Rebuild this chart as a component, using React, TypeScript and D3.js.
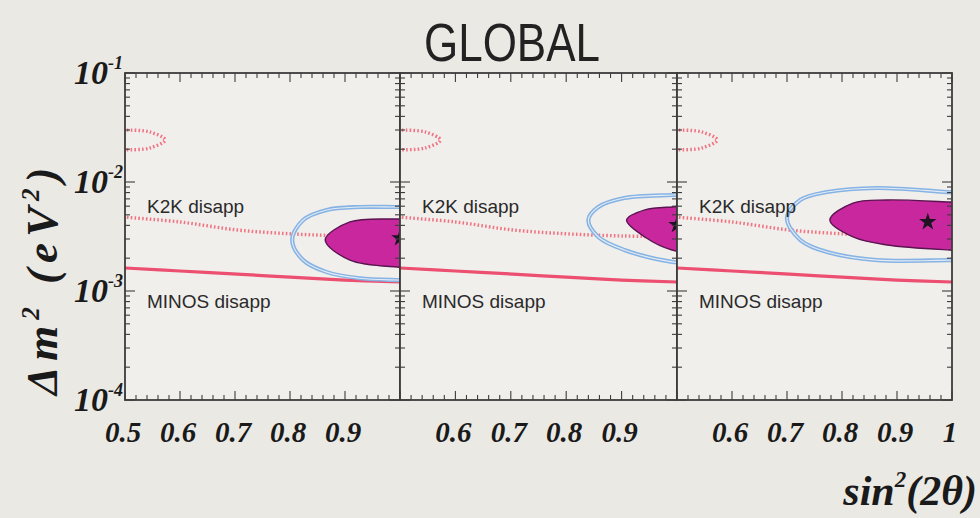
import React from "react";
import * as d3 from "d3";

// ---- chart data -------------------------------------------------------
const panelTitle = "GLOBAL";
const xDomain: [number, number] = [0.5, 1.0];
const yDomain: [number, number] = [1e-4, 1e-1];

const xTickValues = [
  [0.5, 0.6, 0.7, 0.8, 0.9],
  [0.6, 0.7, 0.8, 0.9],
  [0.6, 0.7, 0.8, 0.9, 1.0],
];
const xTickLabels = [
  ["0.5", "0.6", "0.7", "0.8", "0.9"],
  ["0.6", "0.7", "0.8", "0.9"],
  ["0.6", "0.7", "0.8", "0.9", "1"],
];
const yTickValues = [1e-1, 1e-2, 1e-3, 1e-4];
const yTickExponents = ["-1", "-2", "-3", "-4"];

// K2K disappearance 90% CL boundary (two branches), identical in each panel
const k2kLower: [number, number][] = [
  [0.49, 4.85e-3], [0.5, 4.77e-3], [0.6, 4.3e-3], [0.704, 3.63e-3],
  [0.804, 3.34e-3], [0.9, 3.2e-3], [1.0, 3.13e-3], [1.01, 3.12e-3],
];
const k2kUpper: [number, number][] = [
  [0.49, 0.0302], [0.5, 0.030], [0.545, 0.0288], [0.573, 0.0243],
  [0.545, 0.0205], [0.5, 0.0197], [0.49, 0.0196],
];
// MINOS disappearance lower bound
const minosLine: [number, number][] = [
  [0.49, 1.64e-3], [0.5, 1.625e-3], [0.6, 1.525e-3], [0.704, 1.43e-3],
  [0.8, 1.34e-3], [0.9, 1.26e-3], [1.0, 1.21e-3], [1.01, 1.2e-3],
];

// global fit contours, one set per panel
const outerContour1: [number, number][] = [
  [1.03, 5.95e-3], [0.995, 5.9e-3], [0.927, 5.9e-3], [0.867, 5.54e-3],
  [0.824, 4.48e-3], [0.804, 2.94e-3], [0.824, 1.92e-3], [0.867, 1.49e-3],
  [0.927, 1.31e-3], [0.995, 1.26e-3], [1.03, 1.25e-3],
];
const outerContour2: [number, number][] = [
  [1.03, 7.7e-3], [0.991, 7.6e-3], [0.905, 7.13e-3], [0.858, 5.9e-3],
  [0.84, 4.48e-3], [0.858, 3.13e-3], [0.905, 2.38e-3], [0.991, 1.85e-3],
  [1.03, 1.8e-3],
];
const outerContour3: [number, number][] = [
  [1.03, 7.9e-3], [0.991, 8.09e-3], [0.864, 8.81e-3], [0.773, 8.09e-3],
  [0.724, 6.84e-3], [0.7, 4.68e-3], [0.724, 2.94e-3], [0.773, 2.28e-3],
  [0.864, 1.92e-3], [0.991, 1.92e-3], [1.03, 1.93e-3],
];
const innerRegion1: [number, number][] = [
  [1.03, 4.6e-3], [0.995, 4.58e-3], [0.909, 4.3e-3], [0.864, 2.94e-3],
  [0.909, 1.92e-3], [0.995, 1.66e-3], [1.03, 1.65e-3],
];
const innerRegion2: [number, number][] = [
  [1.03, 5.95e-3], [0.991, 5.9e-3], [0.942, 5.54e-3], [0.909, 4.48e-3],
  [0.942, 3.13e-3], [0.991, 2.38e-3], [1.03, 2.3e-3],
];
const innerRegion3: [number, number][] = [
  [1.03, 6.5e-3], [0.996, 6.56e-3], [0.882, 6.84e-3], [0.82, 6.41e-3],
  [0.778, 4.48e-3], [0.82, 3.13e-3], [0.882, 2.64e-3], [0.996, 2.38e-3],
  [1.03, 2.35e-3],
];
const bestFitPoints: [number, number][] = [
  [1.0, 3.06e-3],
  [1.0, 4.04e-3],
  [0.956, 4.3e-3],
];
const outerContours = [outerContour1, outerContour2, outerContour3];
const innerRegions = [innerRegion1, innerRegion2, innerRegion3];

// ---- layout ------------------------------------------------------------
const W = 980;
const H = 518;
const panelEdges = [125, 400, 677, 952];
const plotTop = 73;
const plotBottom = 400;

const serif = "'Liberation Serif', 'DejaVu Serif', serif";
const sans = "'Liberation Sans', Arial, sans-serif";

const bg = "#ebe9e4";
const panelBg = "#f1efec";
const frame = "#3c3c3c";

export default function App() {
  const y = d3.scaleLog().domain(yDomain).range([plotBottom, plotTop]);
  const xs = [0, 1, 2].map((i) =>
    d3.scaleLinear().domain(xDomain).range([panelEdges[i], panelEdges[i + 1]])
  );

  const minorX = d3.range(25, 51).map((k) => k / 50);
  const yTicksAll: { v: number; major: boolean }[] = [];
  [1e-4, 1e-3, 1e-2].forEach((d) => {
    for (let k = 1; k <= 9; k++) yTicksAll.push({ v: k * d, major: k === 1 });
  });
  yTicksAll.push({ v: 1e-1, major: true });

  return (
    <svg
      width={W}
      height={H}
      viewBox={`0 0 ${W} ${H}`}
      style={{ position: "absolute", left: 0, top: 0, background: bg }}
    >
      <rect x={0} y={0} width={W} height={H} fill={bg} />
      <defs>
        {xs.map((x, i) => (
          <clipPath id={`clip${i}`} key={i}>
            <rect x={x.range()[0]} y={plotTop} width={x.range()[1] - x.range()[0]} height={plotBottom - plotTop} />
          </clipPath>
        ))}
      </defs>

      <text
        x={512}
        y={61}
        textAnchor="middle"
        fontFamily={sans}
        fontSize={54}
        fill="#222"
        textLength={176}
        lengthAdjust="spacingAndGlyphs"
      >
        {panelTitle}
      </text>

      {xs.map((x, i) => {
        const [x0, x1] = x.range();
        const lineGen = (curve: d3.CurveFactory) =>
          d3
            .line<[number, number]>()
            .x((d) => x(d[0]))
            .y((d) => y(d[1]))
            .curve(curve);
        const open = lineGen(d3.curveCatmullRom.alpha(0.5));
        const closed = lineGen(d3.curveCatmullRomClosed.alpha(0.5));
        const star = d3.symbol(d3.symbolStar, 95)();
        const bf = bestFitPoints[i];
        return (
          <g key={i}>
            <rect x={x0} y={plotTop} width={x1 - x0} height={plotBottom - plotTop} fill={panelBg} />
            <g clipPath={`url(#clip${i})`}>
              {/* K2K dotted boundary */}
              <path d={open(k2kLower) || ""} fill="none" stroke="#f07482" strokeWidth={3.4} strokeDasharray="1.6,2.2" />
              <path d={open(k2kUpper) || ""} fill="none" stroke="#f07482" strokeWidth={3.4} strokeDasharray="1.6,2.2" />
              {/* MINOS solid boundary */}
              <path d={open(minosLine) || ""} fill="none" stroke="#ec4f70" strokeWidth={3.2} />
              {/* outer allowed contour, drawn as a double line */}
              <path d={open(outerContours[i]) || ""} fill="none" stroke="#86b3e3" strokeWidth={4.2} />
              <path d={open(outerContours[i]) || ""} fill="none" stroke="#e4ecf5" strokeWidth={1.1} />
              {/* inner allowed region */}
              <path d={closed(innerRegions[i]) || ""} fill="#c8279e" stroke="#5a1550" strokeWidth={1.4} />
            </g>
            <path d={star || ""} transform={`translate(${x(bf[0])},${y(bf[1])})`} fill="#1e1320" />

            {/* frame */}
            <rect x={x0} y={plotTop} width={x1 - x0} height={plotBottom - plotTop} fill="none" stroke={frame} strokeWidth={1.8} />

            {/* x ticks on top and bottom, pointing inward */}
            {minorX.map((v) => {
              const major = Math.abs(v * 10 - Math.round(v * 10)) < 1e-6;
              const len = major ? 9 : 5;
              const px = x(v);
              return (
                <g key={`xt${v}`} stroke={frame} strokeWidth={1.1}>
                  <line x1={px} x2={px} y1={plotBottom} y2={plotBottom - len} />
                  <line x1={px} x2={px} y1={plotTop} y2={plotTop + len} />
                </g>
              );
            })}
            {/* y ticks on both sides, pointing inward */}
            {yTicksAll.map((t) => {
              const len = t.major ? 10 : 5;
              const py = y(t.v);
              return (
                <g key={`yt${t.v}`} stroke={frame} strokeWidth={1.1}>
                  <line x1={x0} x2={x0 + len} y1={py} y2={py} />
                  <line x1={x1} x2={x1 - len} y1={py} y2={py} />
                </g>
              );
            })}

            {/* x tick labels */}
            {xTickValues[i].map((v, j) => (
              <text
                key={`xl${j}`}
                x={x(v) - 2}
                y={442}
                textAnchor="middle"
                fontFamily={serif}
                fontStyle="italic"
                fontWeight="bold"
                fontSize={29}
                fill="#1a1a1a"
              >
                {xTickLabels[i][j]}
              </text>
            ))}

            {/* curve labels */}
            <text x={x0 + 22} y={213} fontFamily={sans} fontSize={19} fill="#2a2a2a">
              K2K disapp
            </text>
            <text x={x0 + 22} y={308} fontFamily={sans} fontSize={19} fill="#2a2a2a">
              MINOS disapp
            </text>
          </g>
        );
      })}

      {/* y tick labels */}
      {yTickValues.map((v, j) => (
        <text
          key={`yl${j}`}
          x={123}
          y={y(v) + 11}
          textAnchor="end"
          fontFamily={serif}
          fontStyle="italic"
          fontWeight="bold"
          fontSize={34}
          fill="#1a1a1a"
        >
          10
          <tspan fontSize={18} dy={-15}>
            {yTickExponents[j]}
          </tspan>
        </text>
      ))}

      {/* axis titles */}
      <text
        transform="translate(57,395) rotate(-90)"
        fontFamily={serif}
        fontStyle="italic"
        fontWeight="bold"
        fontSize={45}
        fill="#1a1a1a"
        letterSpacing={6}
      >
        Δm
        <tspan fontSize={25} dy={-18}>2</tspan>
        <tspan dy={18}> (eV</tspan>
        <tspan fontSize={25} dy={-18}>2</tspan>
        <tspan dy={18}>)</tspan>
      </text>
      <text
        x={977}
        y={505}
        textAnchor="end"
        fontFamily={serif}
        fontStyle="italic"
        fontWeight="bold"
        fontSize={42}
        fill="#1a1a1a"
      >
        sin
        <tspan fontSize={23} dy={-18}>2</tspan>
        <tspan dy={18}>(2θ)</tspan>
      </text>
    </svg>
  );
}
